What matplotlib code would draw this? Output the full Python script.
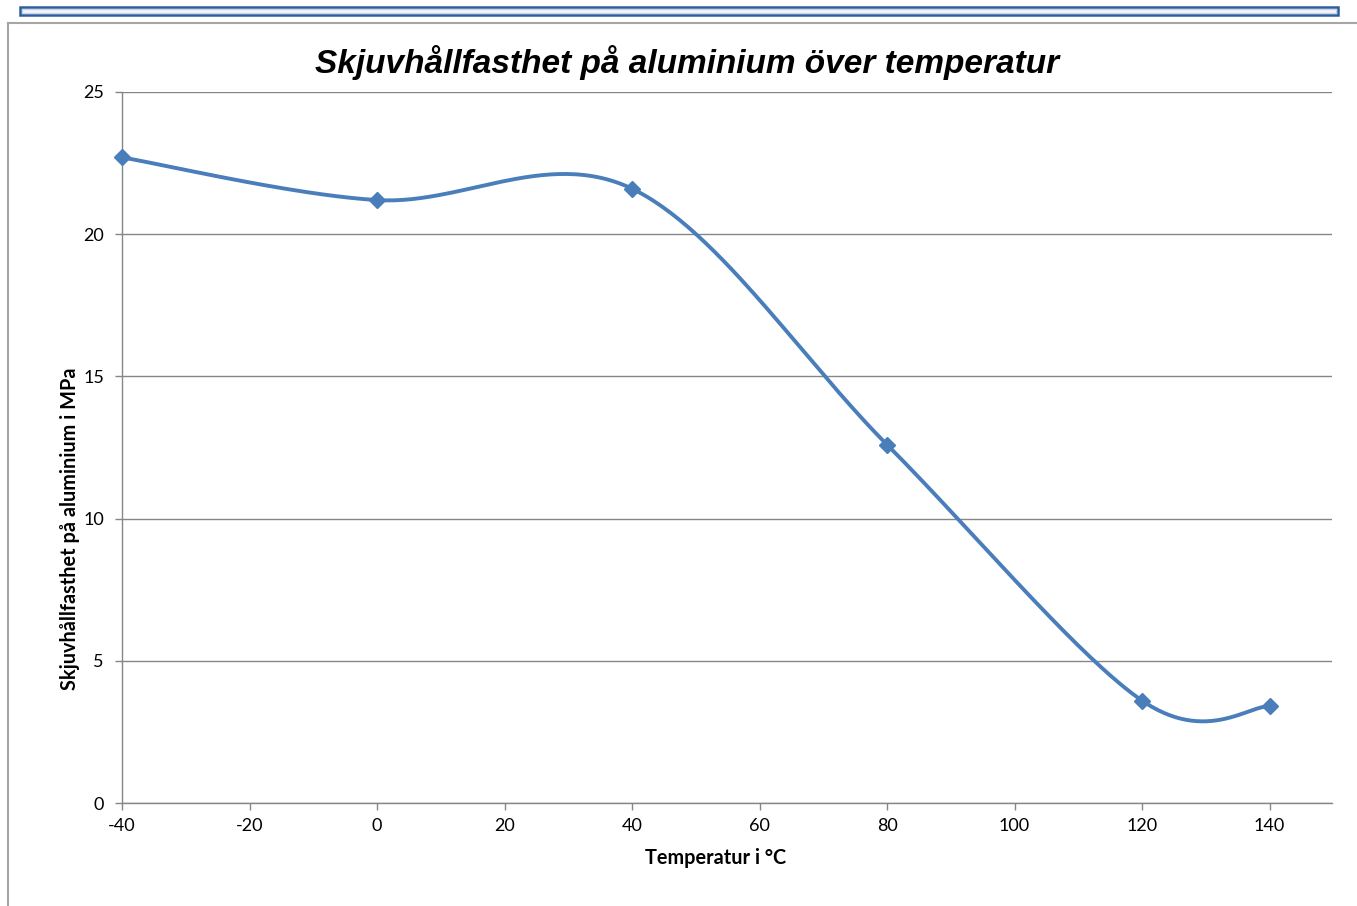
import numpy as np
import matplotlib.pyplot as plt
from matplotlib.patches import Rectangle
from matplotlib.lines import Line2D

# data
temperature = [-40, 0, 40, 80, 120, 140]
shear_strength = [22.7, 21.2, 21.6, 12.6, 3.6, 3.4]

x_ticks = [-40, -20, 0, 20, 40, 60, 80, 100, 120, 140]
y_ticks = [0, 5, 10, 15, 20, 25]

title = 'Skjuvhållfasthet på aluminium över temperatur'
xlabel = 'Temperatur i °C'
ylabel = 'Skjuvhållfasthet på aluminium i MPa'

line_color = '#4a7ebb'
grid_color = '#868686'


def smooth_curve(xs, ys, n=60):
    # Excel-style smoothed line: cubic Bezier with Catmull-Rom control points
    pts = np.column_stack([xs, ys]).astype(float)
    pts = np.vstack([pts[0], pts, pts[-1]])
    out = []
    t = np.linspace(0, 1, n)[:, None]
    for i in range(1, len(pts) - 2):
        p0, p1, p2, p3 = pts[i - 1], pts[i], pts[i + 1], pts[i + 2]
        c1 = p1 + (p2 - p0) / 6
        c2 = p2 - (p3 - p1) / 6
        seg = ((1 - t) ** 3) * p1 + 3 * ((1 - t) ** 2) * t * c1 \
            + 3 * (1 - t) * t ** 2 * c2 + t ** 3 * p2
        out.append(seg)
    out = np.vstack(out)
    return out[:, 0], out[:, 1]


plt.rcParams['font.family'] = ['Lato', 'DejaVu Sans']

fig = plt.figure(figsize=(13.57, 9.06), dpi=100)
ax = fig.add_axes([122 / 1357, 1 - 803 / 906, 1210 / 1357, 711 / 906])

sx, sy = smooth_curve(temperature, shear_strength)
ax.plot(sx, sy, color=line_color, linewidth=2.8, solid_capstyle='round',
        zorder=3, clip_on=False)
ax.plot(temperature, shear_strength, linestyle='none', marker='D', markersize=8,
        color=line_color, zorder=4, clip_on=False)

ax.set_xlim(-40, 149.8)
ax.set_ylim(0, 25)
ax.set_xticks(x_ticks)
ax.set_yticks(y_ticks)
ax.set_xticklabels([str(v) for v in x_ticks])
ax.set_yticklabels([str(v) for v in y_ticks])
ax.tick_params(axis='both', labelsize=13, color=grid_color, length=5, width=1)
ax.tick_params(axis='x', pad=6)
ax.tick_params(axis='y', pad=8)

ax.yaxis.grid(True, color=grid_color, linewidth=1)
ax.set_axisbelow(True)
for side in ['top', 'right']:
    ax.spines[side].set_visible(False)
for side in ['left', 'bottom']:
    ax.spines[side].set_color(grid_color)
    ax.spines[side].set_linewidth(1)

fig.text(687 / 1357, 1 - 62 / 906, title, ha='center', va='center',
         fontsize=24, fontweight='bold', fontstyle='italic',
         family=['Liberation Sans', 'DejaVu Sans'])
fig.text(716 / 1357, 1 - 858 / 906, xlabel, ha='center', va='center',
         fontsize=14.3, fontweight='bold')
fig.text(70 / 1357, 1 - 529 / 906, ylabel, ha='center', va='center',
         rotation=90, fontsize=14.3, fontweight='bold')

# chart frame (left and top edges visible)
fig.add_artist(Line2D([8 / 1357, 8 / 1357], [0, 1 - 23 / 906],
                      transform=fig.transFigure, color='#a6a6a6', linewidth=1.5))
fig.add_artist(Line2D([8 / 1357, 1], [1 - 23 / 906, 1 - 23 / 906],
                      transform=fig.transFigure, color='#a6a6a6', linewidth=1.5))

# blue bar at the top
fig.add_artist(Rectangle((20 / 1357, 1 - 15 / 906), 1318 / 1357, 8 / 906,
                         transform=fig.transFigure, facecolor='#f2f5fa',
                         edgecolor='#2e5d9f', linewidth=1.8))
fig.add_artist(Rectangle((22 / 1357, 1 - 13 / 906), 1314 / 1357, 4 / 906,
                         transform=fig.transFigure, facecolor='none',
                         edgecolor='#c5d3ea', linewidth=0.8))

fig.savefig('out.png', dpi=100)
